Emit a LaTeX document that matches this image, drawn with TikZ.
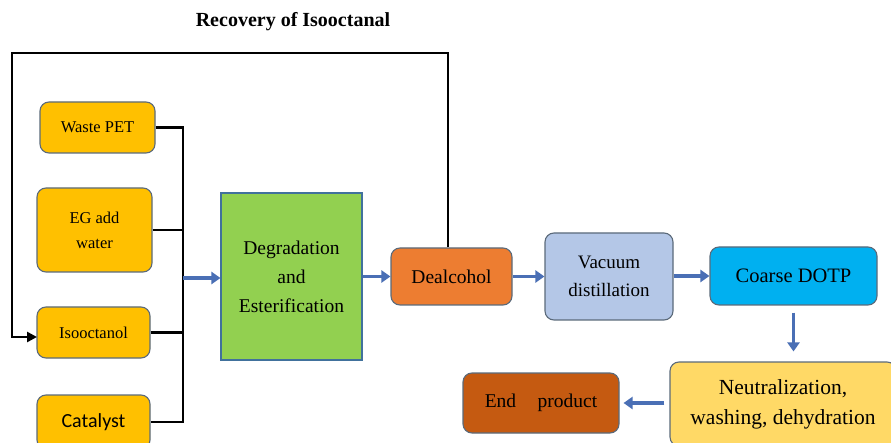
\documentclass[tikz,border=0pt]{standalone}
\usepackage{fontspec}
\setmainfont{Liberation Serif}
\newfontfamily\catfont{Carlito}
\usetikzlibrary{arrows.meta}
\definecolor{edgec}{HTML}{5B6A7A}
\definecolor{boxedge}{HTML}{41719C}
\definecolor{arrowc}{HTML}{4A6FB5}
\definecolor{ambre}{HTML}{FFC000}
\definecolor{greenc}{HTML}{92D050}
\definecolor{orangec}{HTML}{ED7D31}
\definecolor{lavc}{HTML}{B4C7E7}
\definecolor{cyanc}{HTML}{00B0F0}
\definecolor{yellowc}{HTML}{FFD966}
\definecolor{brownc}{HTML}{C55A11}
\begin{document}
\begin{tikzpicture}[x=1pt,y=-1pt,
  box/.style={draw=edgec, line width=1.1pt, rounded corners=9pt, align=center, inner sep=0pt, text=black},
  inbox/.style={box, fill=ambre, font=\fontsize{16.5}{25}\selectfont},
  flow/.style={draw=arrowc, line width=3.8pt, -{Triangle[length=9pt,width=12pt]}},
  feed/.style={draw=black, line width=2.5pt}]
\useasboundingbox (0,0) rectangle (891,443);
\clip (0,0) rectangle (891,443);
\fill[white] (0,0) rectangle (891,443);

\node[font=\bfseries\fontsize{20}{24}\selectfont] (title) at (293,22) {Recovery of Isooctanal};

\node[inbox, minimum width=115, minimum height=51] (pet) at (97.5,127.5) {Waste PET};
\node[inbox, minimum width=115, minimum height=84] (eg) at (94.5,230) {EG add\\water};
\node[inbox, minimum width=113, minimum height=51] (iso) at (93.5,332.5) {Isooctanol};
\node[inbox, minimum width=113, minimum height=54, font=\catfont\fontsize{20}{24}\selectfont] (cat) at (93.5,422) {Catalyst};

\node[box, rounded corners=0pt, draw=boxedge, fill=greenc, minimum width=141, minimum height=167,
  font=\fontsize{19.5}{29}\selectfont] (deg) at (291.5,276.5) {Degradation\\and\\Esterification};
\node[box, fill=orangec, minimum width=121, minimum height=57, font=\fontsize{19.5}{29}\selectfont] (deal) at (451.5,276.5) {Dealcohol};
\node[box, fill=lavc, minimum width=128, minimum height=87, font=\fontsize{19}{28}\selectfont] (vac) at (609,276.5) {Vacuum\\distillation};
\node[box, fill=cyanc, minimum width=167, minimum height=58, font=\fontsize{20.5}{29}\selectfont] (coarse) at (793.5,276) {Coarse DOTP};
\node[box, fill=yellowc, minimum width=226, minimum height=84, font=\fontsize{21.5}{30}\selectfont] (neut) at (783,404) {Neutralization,\\washing, dehydration};
\node[box, fill=brownc, minimum width=156, minimum height=60, font=\fontsize{19.5}{29}\selectfont] (endp) at (541,403) {End\hspace{1.1em}product};

\coordinate (bus) at (183,278);
\coordinate (fbtop) at (448,53);
\coordinate (fbl) at (12,53);
\coordinate (isoin) at (37,337);

\draw[feed] (pet.east) -- (pet.east -| bus) -- (cat.east -| bus) -- (cat.east);
\draw[feed] (eg.east) -- (eg.east -| bus);
\draw[feed] (iso.east) -- (iso.east -| bus);
\draw[feed, -{Triangle[length=10pt,width=10pt]}] (deal.north -| fbtop) -- (fbtop) -- (fbl) -- (fbl |- isoin) -- (isoin);

\draw[flow] (bus) -- (bus -| deg.west);
\draw[flow] (deg.east |- deal.west) -- (deal.west);
\draw[flow] (deal.east) -- (vac.west);
\draw[flow] (vac.east |- coarse.west) -- (coarse.west);
\draw[flow, shorten <=7pt, shorten >=10pt] (coarse.south) -- (coarse.south |- neut.north);
\draw[flow, shorten <=5pt, shorten >=4pt] (neut.west |- endp.east) -- (endp.east);
\end{tikzpicture}
\end{document}
